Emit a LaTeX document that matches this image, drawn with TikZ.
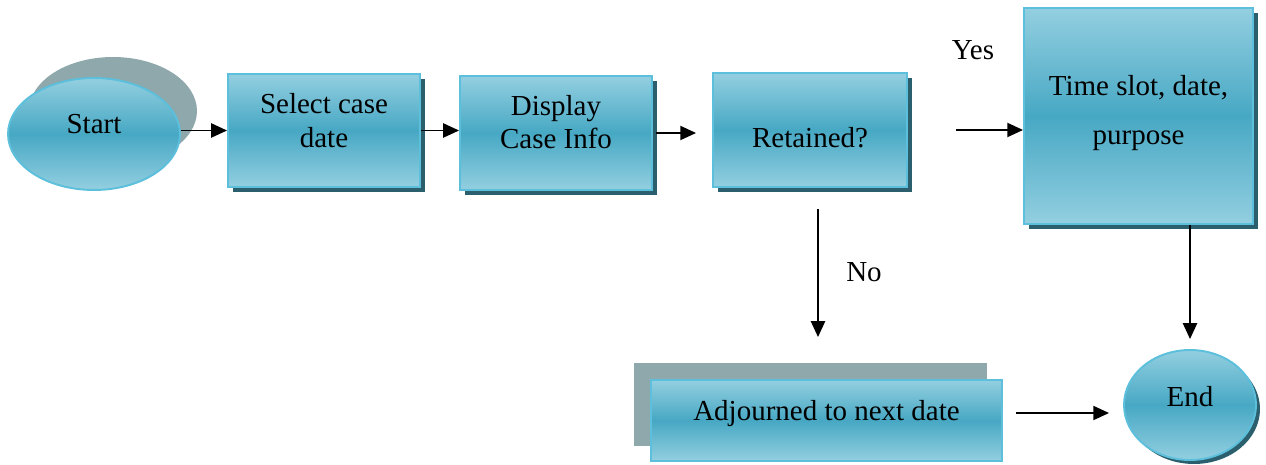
\documentclass[tikz,border=0pt]{standalone}
\usepackage{fontspec}
\setmainfont{Liberation Serif}
\usetikzlibrary{shapes.geometric,shadows,arrows.meta}
\definecolor{lite}{HTML}{93CFE0}
\definecolor{mid}{HTML}{47A8C4}
\definecolor{edgec}{HTML}{5CBFDB}
\definecolor{dsh}{HTML}{2B5F6E}
\definecolor{gsh}{HTML}{8EA8AC}
\begin{document}
\begin{tikzpicture}[x=0.02cm,y=-0.02cm,
  glossy/.style={draw=edgec, line width=1.1pt, top color=lite, bottom color=lite, middle color=mid, inner sep=0pt},
  boxnode/.style={glossy, rectangle, drop shadow={shadow xshift=0.1cm, shadow yshift=-0.1cm, fill=dsh, opacity=1}},
  ovalnode/.style={glossy, ellipse},
  grayshape/.style={fill=gsh, draw=none, inner sep=0pt},
  txt/.style={font=\fontsize{16.5}{19}\selectfont, align=center, inner sep=0pt},
  arr/.style={-{Triangle[length=9pt,width=8pt]}, line width=1.1pt, black}]
\useasboundingbox (0,0) rectangle (1266,465);

% Start
\node[grayshape, ellipse, minimum width=3.36cm, minimum height=2.16cm] (stsh) at (113,111) {};
\node[ovalnode, minimum width=3.44cm, minimum height=2.24cm] (st) at (94,134) {};
\node[txt] (sttxt) at ([yshift=0.2cm]st.center) {Start};

% Select case date
\node[boxnode, minimum width=3.84cm, minimum height=2.26cm] (sel) at (324,130.5) {};
\node[txt] (seltxt) at ([yshift=0.2cm]sel.center) {Select case\\date};

% Display case info
\node[boxnode, minimum width=3.84cm, minimum height=2.28cm] (disp) at (556,133) {};
\node[txt] (disptxt) at ([yshift=0.22cm]disp.center) {Display\\Case Info};

% Retained?
\node[boxnode, minimum width=3.88cm, minimum height=2.28cm] (ret) at (810,130) {};
\node[txt] (rettxt) at ([yshift=-0.16cm]ret.center) {Retained?};

% Time slot
\node[boxnode, minimum width=4.58cm, minimum height=4.32cm] (ts) at (1138.5,116) {};
\node[txt] (tstxt) at ([yshift=0.06cm]ts.center) {Time slot, date,\\[9pt]purpose};

% Adjourned
\node[grayshape, rectangle, minimum width=7.06cm, minimum height=1.66cm] (adjsh) at (810.5,404.5) {};
\node[glossy, rectangle, minimum width=7.02cm, minimum height=1.62cm] (adj) at (826.5,420.5) {};
\node[txt] (adjtxt) at ([yshift=0.13cm]adj.center) {Adjourned to next date};

% End
\node[ovalnode, minimum width=2.64cm, minimum height=2.2cm, drop shadow={shadow xshift=0.08cm, shadow yshift=-0.08cm, fill=dsh, opacity=1}] (en) at (1190,405) {};
\node[txt] (entxt) at ([yshift=0.16cm]en.center) {End};

% Labels
\node[txt] (yes) at (973,50) {Yes};
\node[txt] (no) at (864,272) {No};

% Connectors
\draw[arr] (sel.west -| st.east) -- (sel.west);
\draw[arr] (sel.east) -- (sel.east -| disp.west);
\draw[arr, shorten <=0.06cm, shorten >=0.32cm] (disp.east) -- (disp.east -| ret.west);
\draw[arr, shorten <=0.96cm] (ret.east) -- (ret.east -| ts.west);
\draw[arr, shorten <=0.42cm, shorten >=0.84cm] ([xshift=0.16cm]ret.south) -- ([xshift=0.16cm]ret.south |- adj.north);
\draw[arr, shorten >=0.2cm] (en.north |- ts.south) -- (en.north);
\draw[arr, shorten <=0.26cm, shorten >=0.28cm] ([yshift=0.15cm]adj.east) -- ([yshift=0.15cm]adj.east -| en.west);
\end{tikzpicture}
\end{document}
